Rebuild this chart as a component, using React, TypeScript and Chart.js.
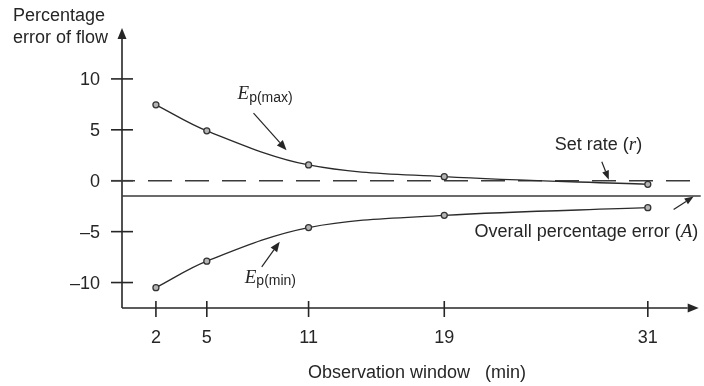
import { useEffect, useRef } from "react";
import { Chart, registerables } from "chart.js";

Chart.register(...registerables);

// Observation window (min) and the percentage error bounds of the flow
const WINDOW_MIN = [2, 5, 11, 19, 31];
const EP_MAX = [7.45, 4.9, 1.55, 0.4, -0.35];
const EP_MIN = [-10.5, -7.9, -4.6, -3.4, -2.65];

const Y_TICKS = [-10, -5, 0, 5, 10];
const X_TICKS = [2, 5, 11, 19, 31];

const SET_RATE = 0; // r
const OVERALL_ERROR = -1.5; // A

const X_RANGE = [0, 34];
const Y_RANGE = [-12.5, 15];

const SANS = '"Liberation Sans", Arial, sans-serif';
const SERIF = '"Liberation Serif", "Times New Roman", serif';
const INK = "#262626";
const FS = 18;

type Run = { text: string; font: string; dy?: number };

function drawRuns(ctx: CanvasRenderingContext2D, x: number, baseline: number, runs: Run[]) {
  let cx = x;
  ctx.textAlign = "left";
  ctx.textBaseline = "alphabetic";
  for (const r of runs) {
    ctx.font = r.font;
    ctx.fillText(r.text, cx, baseline + (r.dy || 0));
    cx += ctx.measureText(r.text).width;
  }
}

function arrow(
  ctx: CanvasRenderingContext2D,
  x1: number,
  y1: number,
  x2: number,
  y2: number,
  head = 10,
  half = 3.5
) {
  const ang = Math.atan2(y2 - y1, x2 - x1);
  const bx = x2 - head * Math.cos(ang);
  const by = y2 - head * Math.sin(ang);
  ctx.beginPath();
  ctx.moveTo(x1, y1);
  ctx.lineTo(bx, by);
  ctx.stroke();
  ctx.beginPath();
  ctx.moveTo(x2, y2);
  ctx.lineTo(bx + half * Math.sin(ang), by - half * Math.cos(ang));
  ctx.lineTo(bx - half * Math.sin(ang), by + half * Math.cos(ang));
  ctx.closePath();
  ctx.fill();
}

const fmt = (v: number) => (v < 0 ? "\u2013" + Math.abs(v) : String(v));

// Axes with crossing tick marks, arrow heads and the two reference levels
const axesPlugin = {
  id: "schematicAxes",
  beforeDatasetsDraw(chart: any) {
    const ctx: CanvasRenderingContext2D = chart.ctx;
    const xs = chart.scales.x;
    const ys = chart.scales.y;
    const x0 = xs.getPixelForValue(X_RANGE[0]);
    const xEnd = xs.getPixelForValue(X_RANGE[1]);
    const yBottom = ys.getPixelForValue(Y_RANGE[0]);
    const yTop = ys.getPixelForValue(Y_RANGE[1]);
    ctx.save();
    ctx.strokeStyle = INK;
    ctx.fillStyle = INK;
    ctx.lineWidth = 1.6;

    // y axis with arrow
    arrow(ctx, x0, yBottom, x0, yTop, 11, 4.5);
    // x axis with arrow
    arrow(ctx, x0, yBottom, xEnd, yBottom, 11, 4.5);

    // y ticks + labels
    ctx.font = `${FS}px ${SANS}`;
    ctx.textAlign = "right";
    ctx.textBaseline = "middle";
    for (const t of Y_TICKS) {
      const py = ys.getPixelForValue(t);
      ctx.beginPath();
      ctx.moveTo(x0 - 11, py);
      ctx.lineTo(x0 + 11, py);
      ctx.stroke();
      ctx.fillText(fmt(t), x0 - 22, py + 1);
    }

    // x ticks + labels
    ctx.textAlign = "center";
    ctx.textBaseline = "alphabetic";
    for (const t of X_TICKS) {
      const px = xs.getPixelForValue(t);
      ctx.beginPath();
      ctx.moveTo(px, yBottom - 7);
      ctx.lineTo(px, yBottom + 9);
      ctx.stroke();
      ctx.fillText(String(t), px, yBottom + 35);
    }

    // set rate (dashed) and overall percentage error (solid)
    ctx.lineWidth = 1.5;
    ctx.strokeStyle = "#3a3a3a";
    ctx.setLineDash([24, 13]);
    const yr = ys.getPixelForValue(SET_RATE);
    ctx.beginPath();
    ctx.moveTo(x0 - 11, yr);
    ctx.lineTo(xEnd + 2, yr);
    ctx.stroke();
    ctx.setLineDash([]);
    const ya = ys.getPixelForValue(OVERALL_ERROR);
    ctx.beginPath();
    ctx.moveTo(x0, ya);
    ctx.lineTo(xEnd + 2, ya);
    ctx.stroke();
    ctx.restore();
  },
  afterDraw(chart: any) {
    const ctx: CanvasRenderingContext2D = chart.ctx;
    const xs = chart.scales.x;
    const ys = chart.scales.y;
    const x0 = xs.getPixelForValue(X_RANGE[0]);
    const yBottom = ys.getPixelForValue(Y_RANGE[0]);
    const P = (x: number, y: number) => [xs.getPixelForValue(x), ys.getPixelForValue(y)];
    ctx.save();
    ctx.fillStyle = INK;
    ctx.strokeStyle = INK;
    ctx.lineWidth = 1.2;

    const sans = `${FS}px ${SANS}`;
    const sub = `14px ${SANS}`;
    const ital = `italic ${FS + 1}px ${SERIF}`;

    // axis titles
    drawRuns(ctx, 13, 21, [{ text: "Percentage", font: sans }]);
    drawRuns(ctx, 13, 43, [{ text: "error of flow", font: sans }]);
    ctx.font = sans;
    ctx.textAlign = "center";
    ctx.fillText("Observation window   (min)", x0 + 295, yBottom + 70);

    // E_p(max)
    let [tx, ty] = P(9.7, 3.0);
    arrow(ctx, tx - 33, ty - 37, tx, ty, 10, 4);
    drawRuns(ctx, tx - 49, ty - 51, [
      { text: "E", font: ital },
      { text: "p(max)", font: sub, dy: 3 },
    ]);

    // E_p(min)
    [tx, ty] = P(9.3, -6.0);
    arrow(ctx, tx - 18, ty + 25, tx, ty, 10, 4);
    drawRuns(ctx, tx - 35, ty + 41, [
      { text: "E", font: ital },
      { text: "p(min)", font: sub, dy: 2 },
    ]);

    // Set rate (r)
    [tx, ty] = P(28.7, 0.1);
    arrow(ctx, tx - 7, ty - 18, tx, ty, 9, 3.5);
    drawRuns(ctx, tx - 54, ty - 30, [
      { text: "Set rate (", font: sans },
      { text: "r", font: ital },
      { text: ")", font: sans },
    ]);

    // Overall percentage error (A)
    [tx, ty] = P(33.7, OVERALL_ERROR - 0.05);
    arrow(ctx, tx - 20, ty + 13, tx, ty, 9, 3.5);
    drawRuns(ctx, tx - 219, ty + 40, [
      { text: "Overall percentage error (", font: sans },
      { text: "A", font: ital },
      { text: ")", font: sans },
    ]);
    ctx.restore();
  },
};

export default function App() {
  const ref = useRef<HTMLCanvasElement | null>(null);

  useEffect(() => {
    if (!ref.current) return;
    const series = (vals: number[]) => WINDOW_MIN.map((x, i) => ({ x, y: vals[i] }));
    const lineStyle = {
      borderColor: "#2b2b2b",
      borderWidth: 1.3,
      tension: 0.35,
      pointRadius: 3,
      pointBorderWidth: 1.3,
      pointBorderColor: "#333",
      pointBackgroundColor: "#b5b5b5",
      fill: false,
    };
    const chart = new Chart(ref.current, {
      type: "line",
      data: {
        datasets: [
          { label: "Ep(max)", data: series(EP_MAX), ...lineStyle },
          { label: "Ep(min)", data: series(EP_MIN), ...lineStyle },
        ],
      },
      options: {
        animation: false,
        responsive: false,
        devicePixelRatio: 1,
        layout: { padding: { left: 122, top: 28, right: 1, bottom: 78 } },
        plugins: { legend: { display: false }, tooltip: { enabled: false } },
        scales: {
          x: { type: "linear", min: X_RANGE[0], max: X_RANGE[1], display: false },
          y: { type: "linear", min: Y_RANGE[0], max: Y_RANGE[1], display: false },
        },
      },
      plugins: [axesPlugin],
    });
    return () => chart.destroy();
  }, []);

  return (
    <div style={{ position: "absolute", left: 0, top: 0, width: 704, height: 386, background: "#fff" }}>
      <canvas ref={ref} width={704} height={386} style={{ display: "block" }} />
    </div>
  );
}
